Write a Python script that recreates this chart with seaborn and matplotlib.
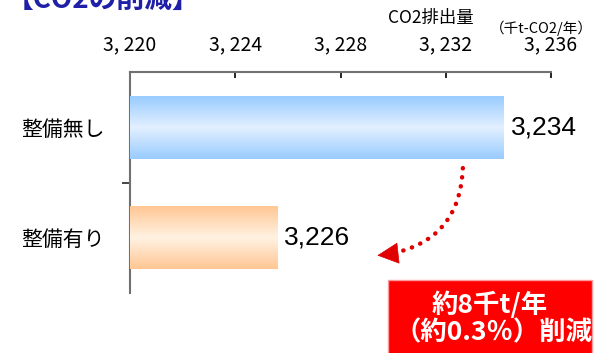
import numpy as np
import pandas as pd
import matplotlib
matplotlib.use('Agg')
import matplotlib.pyplot as plt
from matplotlib.patches import Rectangle
import seaborn as sns

# データ
categories = ['整備無し', '整備有り']
values = [3234.2, 3225.6]
value_labels = ['3,234', '3,226']
x_ticks = [3220, 3224, 3228, 3232, 3236]
x_tick_labels = ['3, 220', '3, 224', '3, 228', '3, 232', '3, 236']

# グラデーション色 (端, 中央)
edge_colors = [(0.60, 0.80, 1.00), (1.00, 0.78, 0.58)]
center_colors = [(0.89, 0.94, 1.00), (1.00, 0.95, 0.89)]

X_MIN, X_MAX = 3220, 3236

sns.set_theme(style='white')
plt.rcParams['font.family'] = ['Noto Sans CJK JP', 'DejaVu Sans']

df = pd.DataFrame({'ケース': categories, 'CO2': values})

fig = plt.figure(figsize=(5.97, 3.53), dpi=100)
ax = fig.add_axes([130 / 597, 1 - 293 / 353, 421 / 597, 221 / 353])

sns.barplot(data=df, y='ケース', x='CO2', orient='h', hue='ケース',
            palette=edge_colors, width=0.57, legend=False, ax=ax)

# バーにグラデーションを重ねる（軸の左端から）
t = np.linspace(0, 1, 64)
w = 1 - np.abs(2 * t - 1)
for patch, ec, cc in zip(ax.patches, edge_colors, center_colors):
    grad = np.array([[np.array(ec) * (1 - wi) + np.array(cc) * wi] for wi in w])
    y0 = patch.get_y()
    x1, y1 = patch.get_x() + patch.get_width(), y0 + patch.get_height()
    ax.imshow(grad, extent=[X_MIN, x1, y1, y0], aspect='auto', zorder=3)
    patch.set_edgecolor('none')

for cont, lab in zip(ax.containers, value_labels):
    ax.bar_label(cont, labels=[lab], padding=5, fontsize=19, color='black',
                 family=['Liberation Sans', 'DejaVu Sans'], zorder=5)

ax.set_xlim(X_MIN, X_MAX)
ax.set_ylim(1.5, -0.5)
ax.set_xlabel('')
ax.set_ylabel('')

ax.set_xticks(x_ticks)
ax.set_xticklabels(x_tick_labels)
ax.xaxis.tick_top()
ax.tick_params(axis='x', top=True, bottom=False, labeltop=True, labelbottom=False,
               direction='in', length=4, width=1.2, pad=12, labelsize=14,
               colors='black')

ax.set_yticks([0, 1])
ax.set_yticklabels(categories)
ax.tick_params(axis='y', which='major', length=0, pad=18, labelsize=15,
               labelcolor='black')
ax.set_yticks([0.5], minor=True)
ax.tick_params(axis='y', which='minor', left=True, direction='out', length=6, width=1.2)

for side in ['right', 'bottom']:
    ax.spines[side].set_visible(False)
for side in ['left', 'top']:
    ax.spines[side].set_color('#707070')
    ax.spines[side].set_linewidth(1.5)

# 削減を示す点線の矢印
ax.annotate('', xy=(3229.8, 1.15), xytext=(3232.65, 0.37),
            arrowprops=dict(arrowstyle='-', color='#e00000', lw=3.2,
                            linestyle=(0, (0.05, 2.0)), capstyle='round',
                            connectionstyle='arc3,rad=-0.4',
                            shrinkA=0, shrinkB=0))
ax.annotate('', xy=(3229.4, 1.16), xytext=(3230.1, 1.142),
            arrowprops=dict(arrowstyle='-|>', color='#e00000', lw=0.5,
                            mutation_scale=36, shrinkA=0, shrinkB=0))

# 軸タイトル
fig.text(431 / 597, 1 - 18 / 353, 'CO2排出量', ha='center', va='center',
         fontsize=12.5, color='black')
fig.text(541 / 597, 1 - 28 / 353, '（千t-CO2/年）', ha='center', va='center',
         fontsize=10.5, color='black')

# 見出し（上部で切れている）
fig.text(0.01, 1 - 8 / 353, '【CO2の削減】', ha='left', va='baseline',
         color='#1f1fa8', fontsize=20, weight='bold')

# 赤い注記ボックス
fig.patches.append(Rectangle((388 / 597, -0.01), 204 / 597, 73 / 353 + 0.01,
                             transform=fig.transFigure, facecolor='#ff0000',
                             edgecolor='#ff9a9a', lw=1))
fig.text(490 / 597, 1 - 305 / 353, '約8千t/年', ha='center', va='center',
         color='white', fontsize=19, weight='bold')
fig.text(494 / 597, 1 - 333 / 353, '（約0.3％）削減', ha='center', va='center',
         color='white', fontsize=19, weight='bold')

fig.savefig('out.png', dpi=100)
